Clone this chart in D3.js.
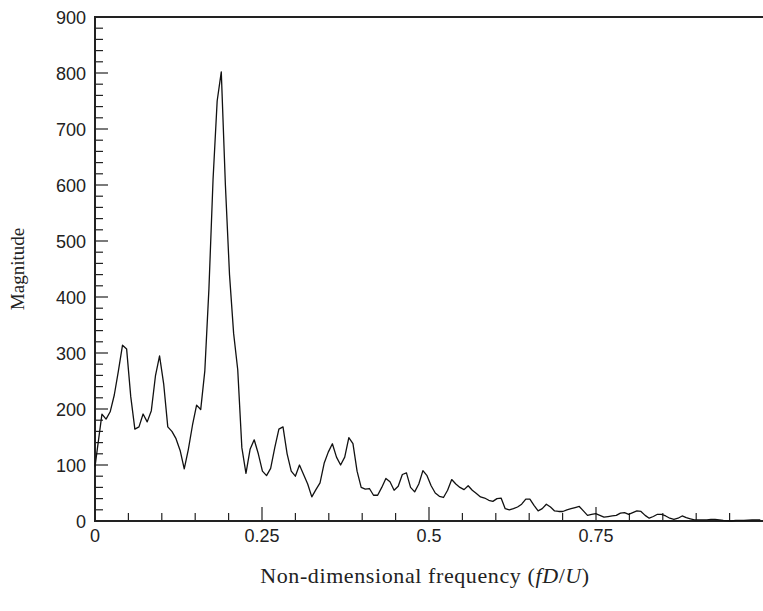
<!DOCTYPE html>
<html>
<head>
<meta charset="utf-8">
<script src="https://cdn.jsdelivr.net/npm/d3@7"></script>
<style>
  html, body { margin: 0; padding: 0; background: #fff; overflow: hidden; }
  .tick-label { font-family: "Liberation Sans", Arial, sans-serif; font-size: 18px; fill: #222; }
  .axis-title { font-family: "Liberation Serif", "Times New Roman", serif; font-size: 19px; fill: #222; }
</style>
</head>
<body>
<div id="chart"></div>
<script>
// spectrum: first sample at f = 0, then uniform bins
var startMagnitude = 97;
var binStart = 0.0104;
var binWidth = 0.00616;
var magnitude = [
  191, 182, 195, 225, 268, 314, 307, 222, 164, 168,
  191, 177, 197, 259, 295, 245, 168, 160, 147, 126,
  93, 128, 171, 207, 199, 268, 415, 610, 750, 802,
  600, 440, 335, 270, 131, 85, 128, 145, 120, 89,
  81, 94, 131, 164, 168, 120, 89, 80, 100, 83,
  66, 43, 56, 68, 103, 123, 138, 114, 100, 114,
  149, 138, 89, 60, 57, 58, 46, 46, 60, 76,
  70, 55, 62, 83, 86, 60, 52, 66, 90, 81,
  63, 50, 44, 42, 55, 74, 66, 60, 56, 63,
  55, 49, 43, 41, 37, 35, 40, 41, 22, 20,
  22, 25, 30, 39, 39, 28, 18, 22, 30, 25,
  18, 17, 17, 20, 22, 24, 26, 18, 10, 12,
  13, 10, 7, 8, 9, 10, 14, 15, 12, 15,
  18, 17, 10, 5, 8, 12, 12, 9, 5, 3,
  5, 9, 6, 4, 2, 2, 2, 2, 3, 3,
  2, 1, 0.5, 0, 1, 1, 1, 1.5, 2, 2, 2
];

var xTickLabels = [0, 0.25, 0.5, 0.75];
var yTickLabels = [0, 100, 200, 300, 400, 500, 600, 700, 800, 900];

var points = [[0, startMagnitude]].concat(magnitude.map(function(v, i) {
  return [binStart + i * binWidth, v];
}));

var width = 763, height = 611;
var plotLeft = 95, plotTop = 17, plotBottom = 521;

var x = d3.scaleLinear().domain([0, 1]).range([plotLeft, plotLeft + 668]);
var y = d3.scaleLinear().domain([0, 900]).range([plotBottom, plotTop]);

var svg = d3.select("#chart").append("svg")
    .attr("width", width)
    .attr("height", height);

// ticks (pointing inside the frame)
var yMinor = d3.range(0, 901, 20);
svg.append("g").selectAll("line")
    .data(yMinor)
  .enter().append("line")
    .attr("x1", plotLeft)
    .attr("x2", function(d) { return d % 100 === 0 ? plotLeft + 13 : plotLeft + 8; })
    .attr("y1", function(d) { return y(d); })
    .attr("y2", function(d) { return y(d); })
    .style("stroke", "#222")
    .style("stroke-width", 1.2);

var xMinor = d3.range(1, 20).map(function(i) { return i * 0.05; });
svg.append("g").selectAll("line")
    .data(xMinor)
  .enter().append("line")
    .attr("x1", function(d) { return x(d); })
    .attr("x2", function(d) { return x(d); })
    .attr("y1", plotBottom)
    .attr("y2", function(d, i) { return (i + 1) % 5 === 0 ? plotBottom - 14 : plotBottom - 8; })
    .style("stroke", "#222")
    .style("stroke-width", 1.2);

// frame: left, bottom, top
svg.append("path")
    .attr("d", "M" + x(1) + "," + plotTop + "H" + plotLeft + "V" + plotBottom + "H" + x(1))
    .style("fill", "none")
    .style("stroke", "#222")
    .style("stroke-width", 2);

svg.append("g").selectAll("text")
    .data(yTickLabels)
  .enter().append("text")
    .attr("class", "tick-label")
    .attr("x", plotLeft - 9)
    .attr("y", function(d) { return y(d) + 6.5; })
    .attr("text-anchor", "end")
    .text(function(d) { return d; });

svg.append("g").selectAll("text")
    .data(xTickLabels)
  .enter().append("text")
    .attr("class", "tick-label")
    .attr("x", function(d) { return x(d); })
    .attr("y", plotBottom + 20.5)
    .attr("text-anchor", "middle")
    .text(function(d) { return d; });

var line = d3.line()
    .x(function(d) { return x(d[0]); })
    .y(function(d) { return y(d[1]); });

svg.append("path")
    .datum(points)
    .attr("d", line)
    .style("fill", "none")
    .style("stroke", "#111")
    .style("stroke-width", 1.3)
    .style("stroke-linejoin", "round");

svg.append("text")
    .attr("class", "axis-title")
    .attr("transform", "translate(24," + ((plotTop + plotBottom) / 2) + ") rotate(-90)")
    .attr("text-anchor", "middle")
    .text("Magnitude");

var xt = svg.append("text")
    .attr("class", "axis-title")
    .attr("x", 425)
    .attr("y", 583)
    .attr("text-anchor", "middle")
    .style("font-size", "22px")
    .style("letter-spacing", "0.6px");
xt.append("tspan").text("Non-dimensional frequency (");
xt.append("tspan").style("font-style", "italic").text("fD");
xt.append("tspan").text("/");
xt.append("tspan").style("font-style", "italic").text("U");
xt.append("tspan").text(")");
</script>
</body>
</html>
